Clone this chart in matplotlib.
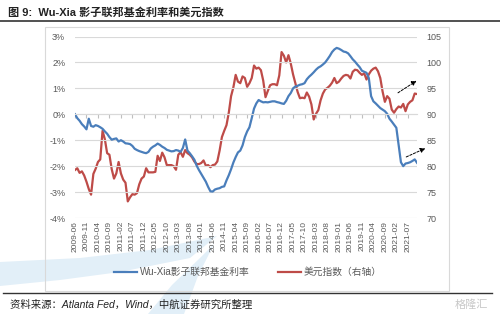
import matplotlib
matplotlib.use("Agg")
import matplotlib.pyplot as plt
import pandas as pd
from matplotlib.lines import Line2D
from matplotlib.patches import Rectangle, Polygon

plt.rcParams['font.family'] = ['Liberation Sans', 'Noto Sans CJK SC', 'DejaVu Sans']
plt.rcParams['axes.unicode_minus'] = False

# monthly observations, 2009-06 onwards
months = pd.period_range("2009-06", periods=150, freq="M").strftime("%Y-%m").tolist()

# Wu-Xia shadow federal funds rate (%), left axis
wu_xia = [
    0.0, -0.15, -0.25, -0.38, -0.47, -0.58, -0.17, -0.45, -0.48, -0.42,
    -0.45, -0.5, -0.56, -0.66, -0.75, -0.88, -0.98, -0.95, -0.93, -1.05,
    -1.0, -1.05, -1.12, -1.13, -1.15, -1.22, -1.33, -1.38, -1.42, -1.45,
    -1.48, -1.5, -1.45, -1.32, -1.25, -1.2, -1.13, -1.18, -1.25, -1.3,
    -1.37, -1.4, -1.43, -1.42, -1.38, -1.4, -1.45, -1.3, -0.97, -1.4,
    -1.5, -1.62, -1.75, -1.98, -2.15, -2.3, -2.45, -2.6, -2.8, -2.97,
    -2.98, -2.9, -2.87, -2.85, -2.8, -2.78, -2.55, -2.35, -2.12, -1.86,
    -1.65, -1.47, -1.4, -1.2, -0.88, -0.66, -0.5, -0.15, 0.22, 0.42,
    0.55, 0.5, 0.46, 0.47, 0.46, 0.48, 0.5, 0.5, 0.47, 0.45,
    0.42, 0.4, 0.52, 0.7, 0.82, 1.0, 1.07, 1.1, 1.14, 1.16,
    1.2, 1.35, 1.45, 1.53, 1.62, 1.72, 1.8, 1.85, 1.92, 2.0,
    2.12, 2.25, 2.4, 2.5, 2.56, 2.53, 2.48, 2.42, 2.4, 2.35,
    2.24, 2.12, 2.03, 1.92, 1.82, 1.68, 1.64, 1.6, 1.4, 0.7,
    0.5, 0.42, 0.33, 0.24, 0.18, 0.12, 0.02, -0.17, -0.28, -0.4,
    -0.52, -1.2, -1.85, -2.0, -1.9, -1.88, -1.85, -1.8, -1.74, -1.87,
]

# US dollar index, right axis
dxy = [
    79.25, 79.6, 78.7, 79.0, 78.2, 77.0, 75.6, 74.5, 78.5, 79.5,
    80.8, 81.3, 86.8, 85.2, 82.5, 82.2, 79.4, 77.6, 78.6, 80.8,
    78.6, 77.4, 76.8, 73.2, 74.0, 74.6, 74.5, 74.8, 76.5, 77.6,
    78.0, 79.6, 78.8, 78.8, 78.8, 78.9, 82.0, 81.0, 82.6, 81.7,
    80.2, 80.2, 80.2, 80.0, 79.3, 82.2, 82.7, 81.8, 83.1, 82.5,
    82.2, 81.7, 80.9, 80.4, 80.4, 80.6, 81.1, 80.1, 80.2, 79.8,
    80.2, 80.3, 80.9, 83.0, 85.6, 86.8, 87.9, 90.3, 93.5, 95.2,
    97.6, 96.3, 96.0, 97.3, 97.0, 95.3, 96.0, 97.0, 99.4, 98.8,
    99.0, 98.5, 96.5, 93.3, 94.5, 95.6, 95.8, 95.8, 95.6, 97.5,
    102.0, 101.3, 100.0, 101.4, 99.8, 97.7, 96.0, 94.3, 93.1, 93.2,
    93.1, 94.2, 93.4, 91.9, 89.0, 90.1, 90.8, 92.7, 94.0, 94.8,
    95.1, 95.5, 96.1, 97.0, 96.0, 96.3, 96.9, 97.4, 97.6, 97.5,
    96.9, 98.2, 98.6, 98.5, 98.0, 97.6, 97.9, 96.7, 97.7, 98.4,
    98.8, 99.0, 98.3, 97.0, 94.4, 92.4, 93.5, 93.0, 90.9, 90.3,
    91.0, 91.5, 91.3, 92.0, 90.6, 91.9, 92.4, 92.7, 94.0, 93.9,
]

left_ticks = [3, 2, 1, 0, -1, -2, -3, -4]
right_ticks = [105, 100, 95, 90, 85, 80, 75, 70]
label_step = 5

BLUE = "#4A7EBB"
RED = "#BE4B48"
GRID = "#D9D9D9"
TXT = "#595959"

W, H = 500, 314
fig = plt.figure(figsize=(W / 100, H / 100), dpi=100)


def fx(px):
    return px / W


def fy(py):
    return 1 - py / H


def fig_poly(points, **kw):
    return Polygon([(fx(a), fy(b)) for a, b in points], closed=True,
                   transform=fig.transFigure, **kw)


# faint swoosh watermark in the lower left
wm = dict(fc="#E2EFF8", ec="none", zorder=-2)
fig.add_artist(fig_poly([(0, 262), (80, 258), (150, 250), (217, 236), (190, 258),
                         (120, 272), (60, 280), (0, 286)], **wm))
fig.add_artist(fig_poly([(148, 314), (172, 285), (200, 258), (214, 244), (198, 276),
                         (184, 314)], **wm))

ax = fig.add_axes([fx(75), fy(218), fx(417) - fx(75), fy(36.5) - fy(218)])
ax2 = ax.twinx()

x = list(range(len(months)))
l1, = ax.plot(x, wu_xia, color=BLUE, lw=1.6, label="Wu-Xia影子联邦基金利率")
l2, = ax2.plot(x, dxy, color=RED, lw=1.6, label="美元指数（右轴）")
ax.set_zorder(ax2.get_zorder() + 1)
ax.patch.set_visible(False)
ax2.patch.set_visible(False)

ax.set_xlim(0, len(months) - 1)
ax.set_ylim(-4, 3)
ax2.set_ylim(70, 105)
ax.set_yticks(left_ticks, [f"{t}%" for t in left_ticks])
ax2.set_yticks(right_ticks, [str(t) for t in right_ticks])
ax.yaxis.grid(True, color=GRID, lw=0.8)
ax.set_axisbelow(True)

for a in (ax, ax2):
    for s in ("top", "left", "right"):
        a.spines[s].set_visible(False)
    a.tick_params(axis="y", length=0, labelsize=6.5, labelcolor=TXT, pad=7)
ax2.spines["bottom"].set_visible(False)

# category axis crosses at 0 with small ticks, labels at the bottom
ax.spines["bottom"].set_position(("data", 0))
ax.spines["bottom"].set_color(GRID)
tick_pos = x[::label_step]
ax.set_xticks(tick_pos)
ax.tick_params(axis="x", length=3, color="#BFBFBF", labelbottom=False)
sec = ax.secondary_xaxis("bottom")
sec.set_xticks(tick_pos, [months[i] for i in tick_pos], rotation=90)
sec.tick_params(length=0, labelsize=6, labelcolor=TXT, pad=2)
sec.spines["bottom"].set_visible(False)

# dashed trend arrows
arrow = dict(arrowstyle="-|>", color="black", lw=0.7, linestyle=(0, (2.5, 1.5)),
             mutation_scale=7)
ax.annotate("", xy=(149.8, 1.35), xytext=(139.7, 0.77), arrowprops=arrow,
            annotation_clip=False)
ax.annotate("", xy=(153.7, -1.27), xytext=(143.2, -1.69), arrowprops=arrow,
            annotation_clip=False)

fig.legend(handles=[l1, l2], loc="center", bbox_to_anchor=(fx(248), fy(272)),
           ncol=2, frameon=False, fontsize=7, handlelength=2.3, columnspacing=3,
           labelcolor=TXT, handletextpad=0.3)

# frame around the chart, title and source
fig.add_artist(Rectangle((fx(45), fy(291)), fx(449) - fx(45), fy(27) - fy(291),
                         transform=fig.transFigure, fill=False, ec=GRID, lw=0.8))
fig.add_artist(Line2D([0, 1], [fy(21), fy(21)], color="#333333", lw=1.2))
fig.add_artist(Line2D([fx(3), fx(492)], [fy(293), fy(293)], color="#333333", lw=1.0))

fig.text(fx(8), fy(12), "图 9:  Wu-Xia 影子联邦基金利率和美元指数", fontsize=8,
         fontweight="bold", color="#222222", va="center", ha="left")
fig.text(fx(10), fy(305), "资料来源：Atlanta Fed，Wind，中航证券研究所整理", fontsize=7.5,
         style="italic", color="#222222", va="center", ha="left")
fig.text(fx(488), fy(305), "格隆汇", fontsize=8, color="#C8C8C8", va="center", ha="right")

fig.savefig("out.png", dpi=100)
